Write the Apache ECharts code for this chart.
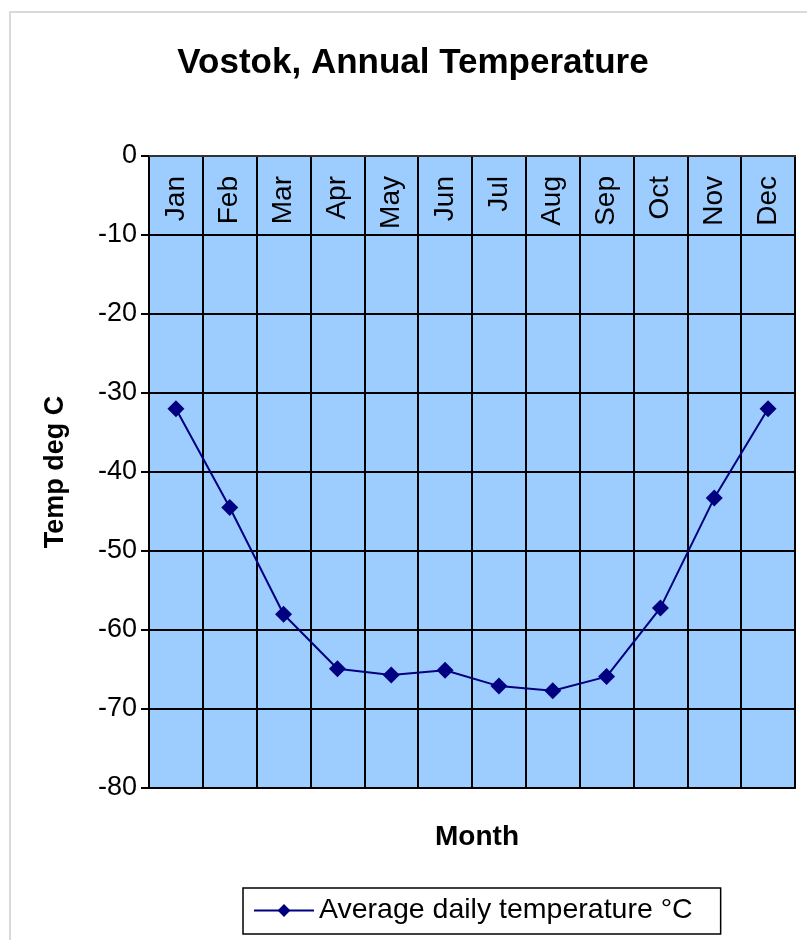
<!DOCTYPE html>
<html>
<head>
<meta charset="utf-8">
<script src="https://cdn.jsdelivr.net/npm/echarts@6/dist/echarts.min.js"></script>
<style>
  html, body { margin: 0; padding: 0; background: #fff; }
  #chart { width: 807px; height: 940px; }
</style>
</head>
<body>
<div id="chart"></div>
<script>
// data
const months = ["Jan", "Feb", "Mar", "Apr", "May", "Jun", "Jul", "Aug", "Sep", "Oct", "Nov", "Dec"];
const avgTemp = [-32.0, -44.5, -58.0, -64.9, -65.7, -65.1, -67.1, -67.7, -65.9, -57.2, -43.3, -32.0];
const seriesName = "Average daily temperature °C";

const font = "Liberation Sans, Arial, sans-serif";
const chart = echarts.init(document.getElementById("chart"));

chart.setOption({
  animation: false,
  backgroundColor: "#fff",
  title: [
    {
      text: "Vostok, Annual Temperature",
      left: 408,
      top: 41,
      textAlign: "center",
      textStyle: { fontFamily: font, fontSize: 35, fontWeight: "bold", color: "#000" }
    },
    {
      text: "Month",
      left: 472,
      top: 818,
      textAlign: "center",
      textStyle: { fontFamily: font, fontSize: 28, fontWeight: "bold", color: "#000" }
    }
  ],
  graphic: [
    {
      type: "rect",
      shape: { x: 10, y: 12, width: 820, height: 940 },
      style: { fill: "none", stroke: "#d9d9d9", lineWidth: 2 },
      silent: true,
      z: -10
    }
  ],
  legend: {
    left: 243,
    top: 888,
    padding: [8, 28, 9, 10],
    borderColor: "#000",
    borderWidth: 1.5,
    itemWidth: 60,
    itemHeight: 16,
    itemGap: 4,
    textStyle: { fontFamily: font, fontSize: 28.5, color: "#000" },
    data: [seriesName]
  },
  grid: {
    left: 149,
    right: 12,
    top: 156,
    bottom: 152,
    show: true,
    backgroundColor: "#9dcdff",
    borderColor: "#222",
    borderWidth: 2
  },
  xAxis: {
    type: "category",
    position: "top",
    data: months,
    boundaryGap: true,
    axisLine: { show: true, lineStyle: { color: "#333", width: 2 } },
    axisTick: { show: false },
    axisLabel: {
      inside: true,
      rotate: 90,
      margin: 20,
      fontFamily: font,
      fontSize: 28,
      color: "#000"
    },
    splitLine: { show: true, lineStyle: { color: "#000", width: 2 } }
  },
  yAxis: {
    type: "value",
    min: -80,
    max: 0,
    interval: 10,
    name: "Temp deg C",
    nameLocation: "middle",
    nameGap: 80,
    nameTextStyle: { fontFamily: font, fontSize: 27, fontWeight: "bold", color: "#000" },
    axisLine: { show: true, lineStyle: { color: "#000", width: 2 } },
    axisTick: { show: true, length: 8, lineStyle: { color: "#000", width: 2 } },
    axisLabel: { fontFamily: font, fontSize: 27, color: "#000", margin: 12 },
    splitLine: { show: true, lineStyle: { color: "#000", width: 2 } }
  },
  series: [
    {
      name: seriesName,
      type: "line",
      data: avgTemp,
      symbol: "diamond",
      symbolSize: 17,
      lineStyle: { color: "#000080", width: 2 },
      itemStyle: { color: "#000080" }
    }
  ]
});
</script>
</body>
</html>
